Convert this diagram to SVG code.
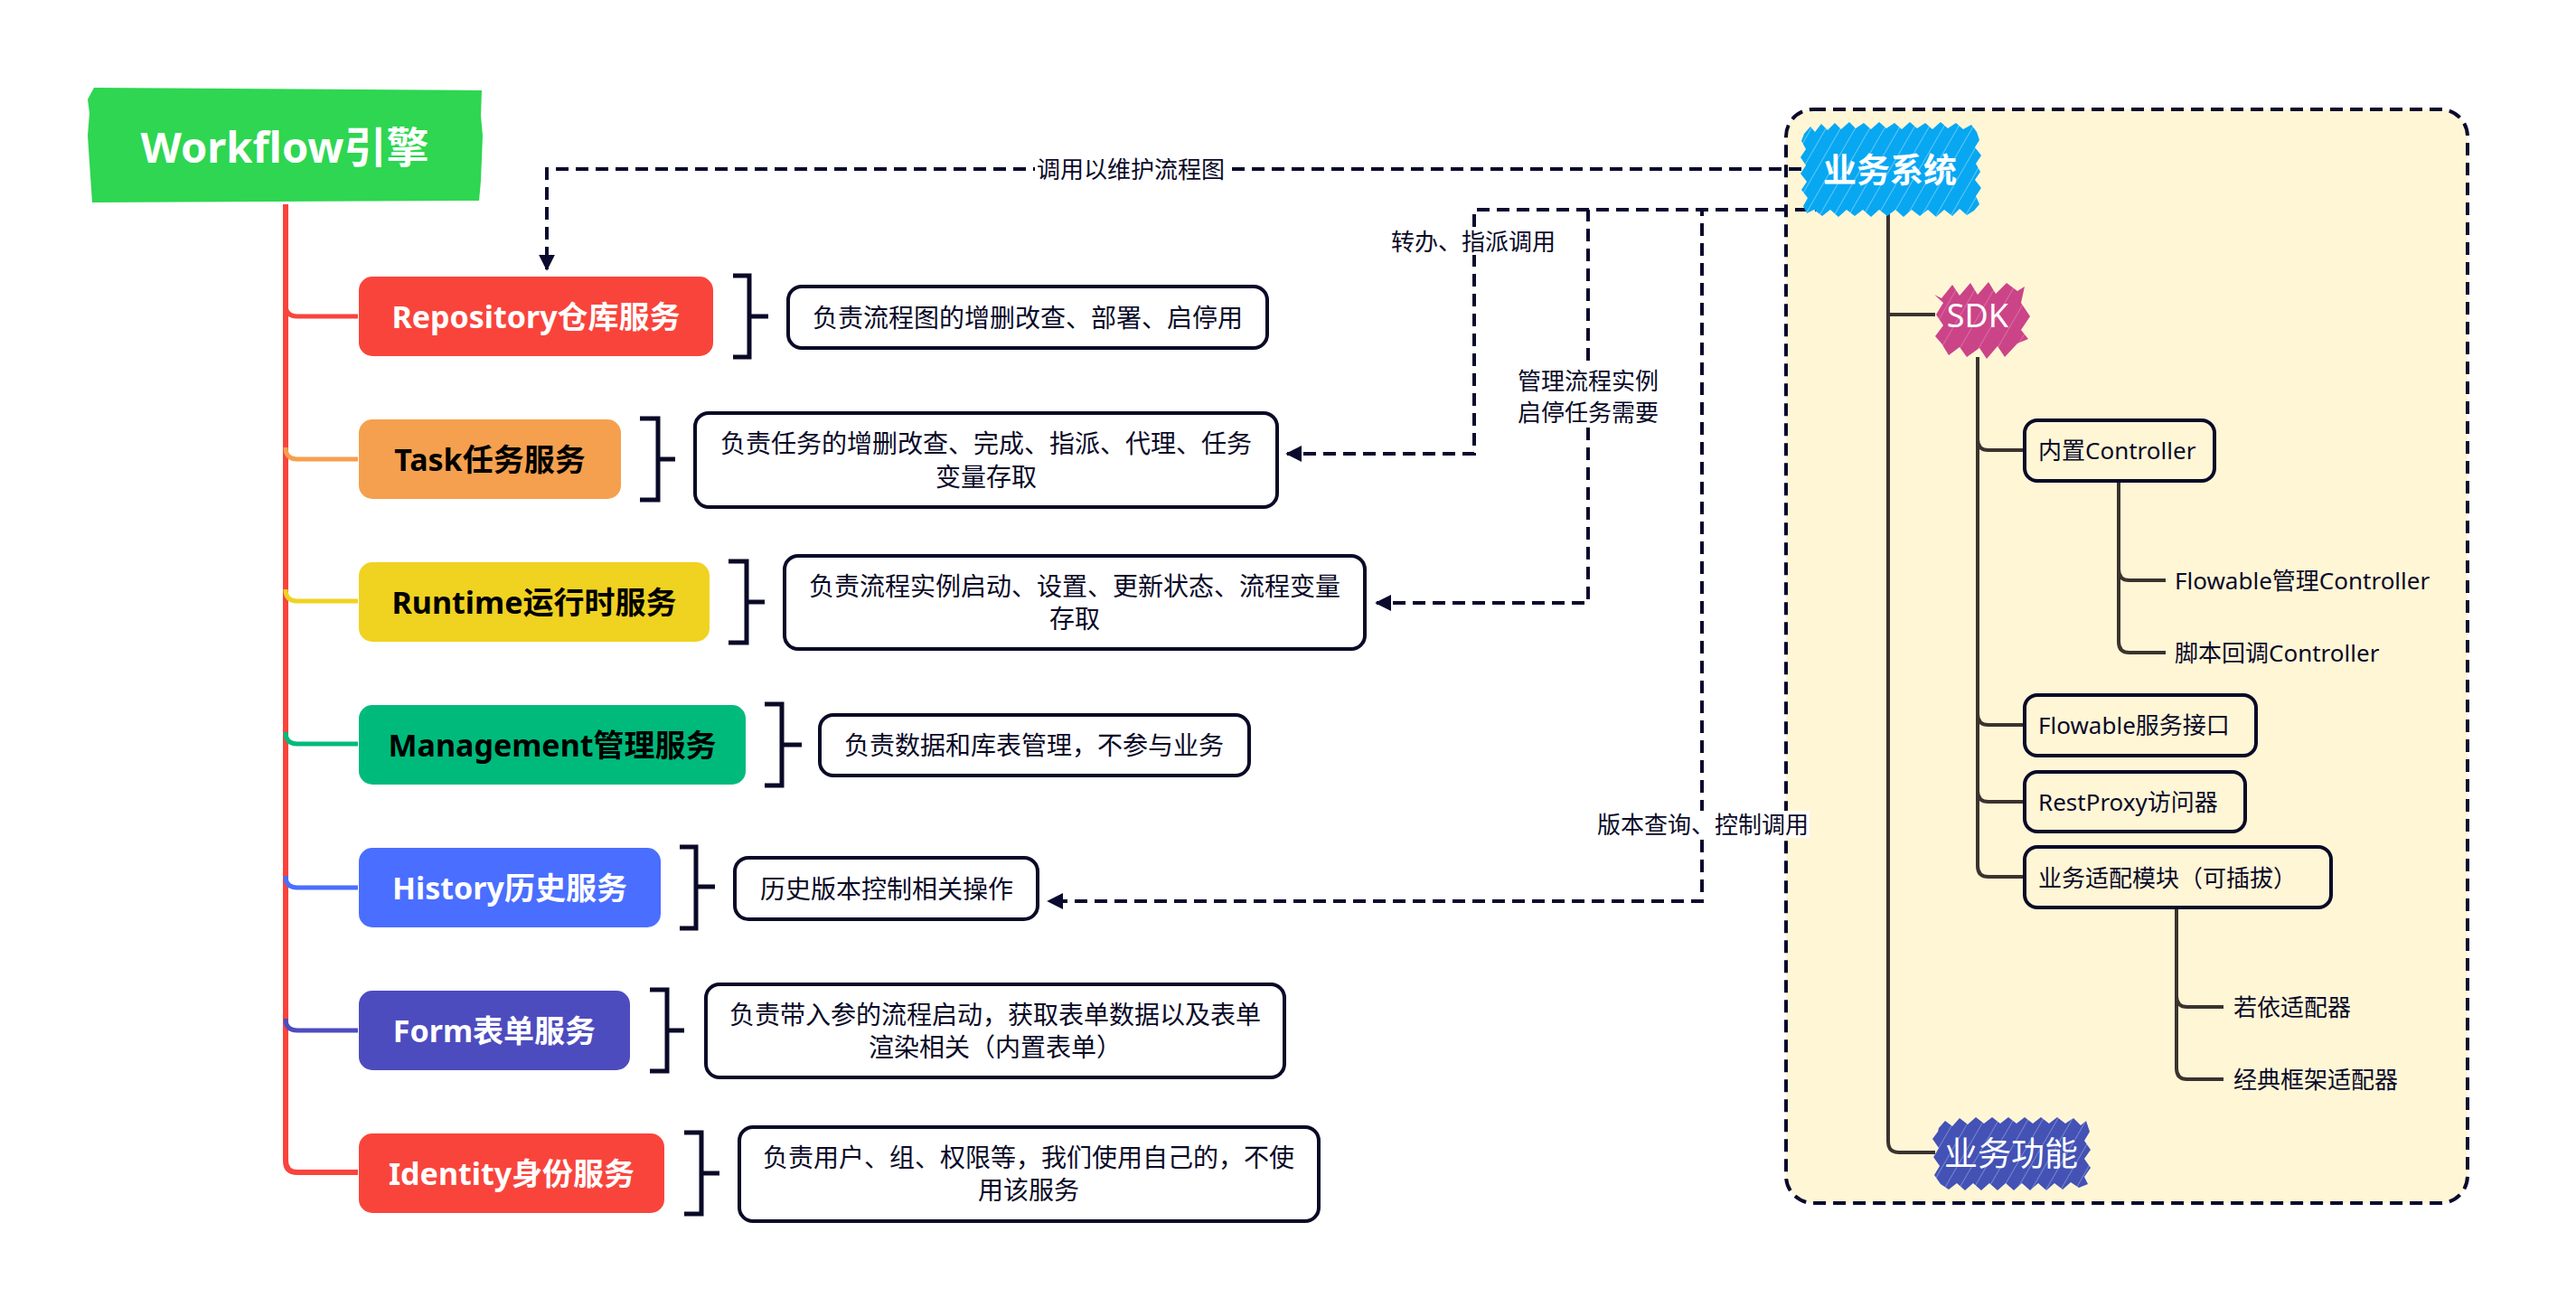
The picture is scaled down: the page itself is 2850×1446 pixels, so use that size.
<svg xmlns="http://www.w3.org/2000/svg" width="2850" height="1446" viewBox="0 0 2850 1446">
<style>
.t{font-family:"Noto Sans","Noto Sans CJK SC",sans-serif;}
.svc{font-size:34px;font-weight:700;text-anchor:middle;dominant-baseline:central;}
.desc{font-size:28px;fill:#0a0a28;text-anchor:middle;dominant-baseline:central;}
.dbox{fill:#ffffff;stroke:#0a0a28;stroke-width:4;}
.br{fill:none;stroke:#0a0a28;stroke-width:5;}
.rbox{fill:#fff6d6;stroke:#0a0a28;stroke-width:4;}
.rt{font-size:26px;fill:#0a0a28;dominant-baseline:central;}
.lbl{font-size:26px;fill:#0a0a28;text-anchor:middle;dominant-baseline:central;}
.dash{fill:none;stroke:#0a0a2e;stroke-width:4;stroke-dasharray:14 8;}
.tree{fill:none;stroke:#3b332e;stroke-width:4;}
.br0{fill:none;stroke-width:5;}
</style>
<defs>
<marker id="arr" viewBox="0 0 10 10" refX="9" refY="5" markerWidth="4.5" markerHeight="4.5" orient="auto" markerUnits="strokeWidth">
<path d="M0,0 L10,5 L0,10 Z" fill="#0a0a2e"/>
</marker>
<pattern id="hatchB" width="14" height="14" patternUnits="userSpaceOnUse" patternTransform="rotate(30)">
<rect width="14" height="14" fill="#08a7f2"/>
<line x1="0" y1="0" x2="0" y2="14" stroke="#7fd3f8" stroke-width="1.5"/>
</pattern>
<pattern id="hatchI" width="14" height="14" patternUnits="userSpaceOnUse" patternTransform="rotate(30)">
<rect width="14" height="14" fill="#4352b4"/>
<line x1="0" y1="0" x2="0" y2="14" stroke="#8d97d6" stroke-width="1.5"/>
</pattern>
<pattern id="hatchM" width="18" height="18" patternUnits="userSpaceOnUse" patternTransform="rotate(30)">
<rect width="18" height="18" fill="#cc4488"/>
<line x1="0" y1="0" x2="0" y2="18" stroke="#e08ab5" stroke-width="1.2"/>
</pattern>
</defs>
<rect width="2850" height="1446" fill="#ffffff"/>

<!-- container -->
<g id="container">
<rect x="1976" y="121" width="754" height="1210" rx="30" fill="#fff6d6" stroke="#0a0a2e" stroke-width="4" stroke-dasharray="14 8"/>
</g>

<!-- left tree lines -->
<g id="tree-left">
<path d="M316,226 V1284 Q316,1297 329,1297 H396" fill="none" stroke="#f9443c" stroke-width="6"/>
<path class="br0" stroke="#f9443c" d="M316,337 Q316,350 329,350 H396"/>
<path class="br0" stroke="#f5a04e" d="M316,495 Q316,508 329,508 H396"/>
<path class="br0" stroke="#f0d221" d="M316,652 Q316,665 329,665 H396"/>
<path class="br0" stroke="#00ba7c" d="M316,810 Q316,823 329,823 H396"/>
<path class="br0" stroke="#4a6eff" d="M316,969 Q316,982 329,982 H396"/>
<path class="br0" stroke="#4d4cbf" d="M316,1127 Q316,1140 329,1140 H396"/>
</g>

<!-- right tree lines -->
<g id="tree-right">
<path class="tree" d="M2089,237 V1263 Q2089,1275 2101,1275 H2141"/>
<path class="tree" d="M2089,348 H2141"/>
<path class="tree" d="M2188,395 V958 Q2188,970 2200,970 H2240"/>
<path class="tree" d="M2188,486 Q2188,498 2200,498 H2240"/>
<path class="tree" d="M2188,790 Q2188,802 2200,802 H2240"/>
<path class="tree" d="M2188,875 Q2188,887 2200,887 H2240"/>
<path class="tree" d="M2344,532 V710 Q2344,722 2356,722 H2396"/>
<path class="tree" d="M2344,630 Q2344,642 2356,642 H2396"/>
<path class="tree" d="M2408,1004 V1182 Q2408,1194 2420,1194 H2460"/>
<path class="tree" d="M2408,1102 Q2408,1114 2420,1114 H2460"/>
</g>

<!-- dashed connectors -->
<g id="connectors">
<path class="dash" d="M1993,187 H605 V298" marker-end="url(#arr)"/>
<path class="dash" d="M2022,232 H1631 V502 H1424" marker-end="url(#arr)"/>
<path class="dash" d="M2022,232 H1757 V667 H1523" marker-end="url(#arr)"/>
<path class="dash" d="M2022,232 H1883 V997 H1160" marker-end="url(#arr)"/>
<rect x="1145" y="172" width="212" height="30" fill="#ffffff"/>
<text class="t lbl" x="1251" y="187">调用以维护流程图</text>
<rect x="1538" y="252" width="184" height="30" fill="#ffffff"/>
<text class="t lbl" x="1630" y="267">转办、指派调用</text>
<rect x="1678" y="404" width="158" height="68" fill="#ffffff"/>
<text class="t lbl" x="1757" y="421">管理流程实例</text>
<text class="t lbl" x="1757" y="456">启停任务需要</text>
<rect x="1766" y="897" width="236" height="30" fill="#ffffff"/>
<text class="t lbl" x="1884" y="912">版本查询、控制调用</text>
</g>

<!-- root -->
<g id="root">
<polygon points="104,97 533,100 532,128 534,150 532,200 530,222 102,224 99,180 97,150 99,125 97,110" fill="#2ed651"/>
<text class="t" x="315" y="162" font-size="47" font-weight="700" fill="#ffffff" text-anchor="middle" dominant-baseline="central">Workflow引擎</text>
</g>

<!-- service nodes -->
<g id="repository">
<rect x="397" y="306" width="392" height="88" rx="15" fill="#f9443c"/>
<text class="t svc" x="593" y="350" fill="#ffffff">Repository仓库服务</text>
<path class="br" d="M811,305 H829 V395 H811 M829,350 H850"/>
<rect class="dbox" x="872" y="317" width="530" height="68" rx="15"/>
<text class="t desc" x="1137" y="351">负责流程图的增删改查、部署、启停用</text>
</g>
<g id="task">
<rect x="397" y="464" width="290" height="88" rx="15" fill="#f5a04e"/>
<text class="t svc" x="542" y="508" fill="#000000">Task任务服务</text>
<path class="br" d="M708,463 H728 V553 H708 M728,508 H747"/>
<rect class="dbox" x="769" y="457" width="644" height="104" rx="15"/>
<text class="t desc" x="1091" y="490">负责任务的增删改查、完成、指派、代理、任务</text>
<text class="t desc" x="1091" y="527">变量存取</text>
</g>
<g id="runtime">
<rect x="397" y="622" width="388" height="88" rx="15" fill="#f0d221"/>
<text class="t svc" x="591" y="666" fill="#000000">Runtime运行时服务</text>
<path class="br" d="M806,621 H826 V711 H806 M826,666 H846"/>
<rect class="dbox" x="868" y="615" width="642" height="103" rx="15"/>
<text class="t desc" x="1189" y="648">负责流程实例启动、设置、更新状态、流程变量</text>
<text class="t desc" x="1189" y="684">存取</text>
</g>
<g id="management">
<rect x="397" y="780" width="428" height="88" rx="15" fill="#00ba7c"/>
<text class="t svc" x="611" y="824" fill="#000000">Management管理服务</text>
<path class="br" d="M846,779 H865 V869 H846 M865,824 H887"/>
<rect class="dbox" x="907" y="791" width="475" height="67" rx="15"/>
<text class="t desc" x="1144" y="824">负责数据和库表管理，不参与业务</text>
</g>
<g id="history">
<rect x="397" y="938" width="334" height="88" rx="15" fill="#4a6eff"/>
<text class="t svc" x="564" y="982" fill="#ffffff">History历史服务</text>
<path class="br" d="M752,937 H770 V1027 H752 M770,981 H791"/>
<rect class="dbox" x="813" y="949" width="335" height="68" rx="15"/>
<text class="t desc" x="981" y="983">历史版本控制相关操作</text>
</g>
<g id="form">
<rect x="397" y="1096" width="300" height="88" rx="15" fill="#4d4cbf"/>
<text class="t svc" x="547" y="1140" fill="#ffffff">Form表单服务</text>
<path class="br" d="M719,1095 H738 V1185 H719 M738,1140 H757"/>
<rect class="dbox" x="781" y="1089" width="640" height="103" rx="15"/>
<text class="t desc" x="1101" y="1122">负责带入参的流程启动，获取表单数据以及表单</text>
<text class="t desc" x="1101" y="1158">渲染相关（内置表单）</text>
</g>
<g id="identity">
<rect x="397" y="1254" width="338" height="88" rx="15" fill="#f9443c"/>
<text class="t svc" x="566" y="1298" fill="#ffffff">Identity身份服务</text>
<path class="br" d="M757,1253 H776 V1343 H757 M776,1298 H796"/>
<rect class="dbox" x="818" y="1247" width="641" height="104" rx="15"/>
<text class="t desc" x="1138" y="1280">负责用户、组、权限等，我们使用自己的，不使</text>
<text class="t desc" x="1138" y="1316">用该服务</text>
</g>

<!-- right side nodes -->
<g id="biz-system">
<polygon fill="url(#hatchB)" points="1996,148 2003,140 2008,146 2015,137 2022,144 2030,136 2037,143 2046,135 2053,142 2062,136 2070,143 2079,135 2087,142 2096,136 2104,143 2113,135 2121,142 2130,136 2138,143 2147,135 2155,142 2164,136 2172,143 2181,138 2187,146 2190,155 2185,163 2192,172 2186,181 2191,190 2185,199 2192,208 2186,217 2190,226 2184,233 2176,238 2168,231 2160,239 2151,232 2142,240 2133,232 2124,239 2115,232 2106,240 2097,232 2088,239 2079,232 2070,240 2061,232 2052,239 2043,232 2034,240 2025,232 2016,239 2007,232 1999,236 1995,228 2000,219 1993,210 1999,201 1992,192 1998,183 1992,174 1998,165 1993,156"/>
<text class="t" x="2091" y="187" font-size="37" font-weight="700" fill="#ffffff" text-anchor="middle" dominant-baseline="central">业务系统</text>
</g>
<g id="sdk">
<polygon fill="url(#hatchM)" points="2148,330 2160,315 2168,327 2180,313 2188,326 2200,312 2208,325 2220,313 2232,322 2240,317 2236,335 2246,350 2236,365 2244,375 2232,380 2218,395 2210,383 2198,397 2190,385 2176,395 2168,384 2156,393 2148,380 2141,372 2150,360 2142,348 2150,335 2140,326"/>
<text class="t" x="2188" y="348" font-size="36" fill="#ffffff" text-anchor="middle" dominant-baseline="central">SDK</text>
</g>
<g id="builtin-controller">
<rect class="rbox" x="2240" y="465" width="210" height="67" rx="14"/>
<text class="t rt" x="2255" y="498">内置Controller</text>
</g>
<g id="flowable-mgmt-controller">
<text class="t rt" x="2406" y="642">Flowable管理Controller</text>
</g>
<g id="script-callback-controller">
<text class="t rt" x="2406" y="722">脚本回调Controller</text>
</g>
<g id="flowable-service-api">
<rect class="rbox" x="2240" y="769" width="256" height="67" rx="14"/>
<text class="t rt" x="2255" y="802">Flowable服务接口</text>
</g>
<g id="restproxy">
<rect class="rbox" x="2240" y="854" width="244" height="66" rx="14"/>
<text class="t rt" x="2255" y="887">RestProxy访问器</text>
</g>
<g id="biz-adapter">
<rect class="rbox" x="2240" y="937" width="339" height="67" rx="14"/>
<text class="t rt" x="2255" y="971">业务适配模块（可插拔）</text>
</g>
<g id="ruoyi-adapter">
<text class="t rt" x="2471" y="1114">若依适配器</text>
</g>
<g id="classic-adapter">
<text class="t rt" x="2471" y="1194">经典框架适配器</text>
</g>
<g id="biz-function">
<polygon fill="url(#hatchI)" points="2145,1248 2152,1240 2160,1246 2168,1237 2177,1244 2186,1236 2195,1243 2204,1236 2213,1243 2222,1236 2231,1243 2240,1236 2249,1243 2258,1236 2267,1243 2276,1236 2285,1243 2294,1237 2302,1245 2308,1240 2312,1252 2306,1262 2313,1272 2306,1282 2313,1292 2306,1302 2310,1310 2300,1314 2291,1308 2282,1316 2273,1309 2264,1317 2255,1309 2246,1317 2237,1309 2228,1317 2219,1309 2210,1317 2201,1309 2192,1317 2183,1309 2174,1317 2165,1309 2156,1316 2147,1310 2140,1300 2146,1290 2139,1280 2145,1270 2138,1260 2144,1252"/>
<text class="t" x="2225" y="1275" font-size="37" fill="#ffffff" text-anchor="middle" dominant-baseline="central">业务功能</text>
</g>
</svg>
